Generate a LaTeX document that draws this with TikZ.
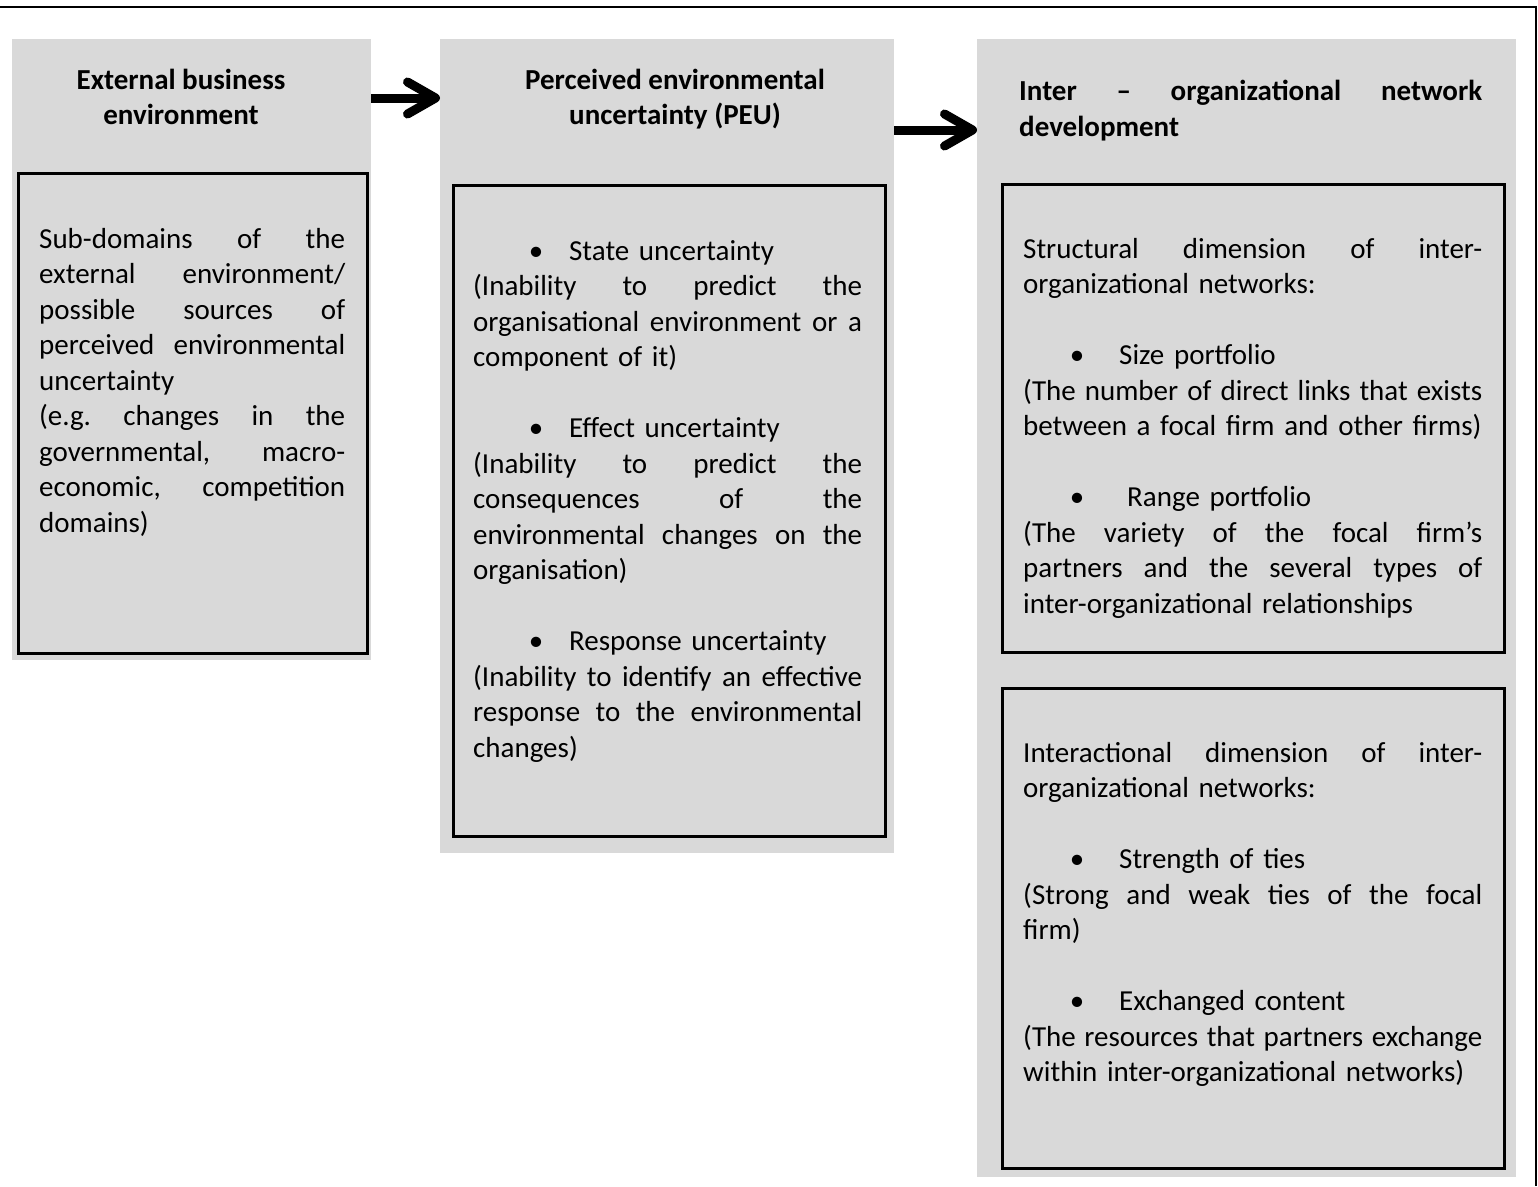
\documentclass[tikz,border=0pt]{standalone}
\usepackage{fontspec}
\setmainfont{Carlito}
\usetikzlibrary{arrows.meta}
\definecolor{panelgrey}{HTML}{D9D9D9}
\setlength{\parindent}{0pt}
\frenchspacing
% width of a justified line, set per text block
\newlength{\jw}
% one justified line of fixed width (interword glue of the font restored)
\newcommand{\jline}[1]{\makebox[\jw][s]{\spaceskip=0pt\xspaceskip=0pt\relax #1}}
% bullet item: bullet centred at #1, text starting at #2
\newcommand{\bitem}[3]{\mbox{\makebox[#2][l]{\hspace*{#1}\makebox[0pt]{•}}#3}}
\begin{document}
\begin{tikzpicture}[x=1pt,y=-1pt,
  panel/.style={fill=panelgrey, inner sep=0pt, outer sep=0pt, anchor=north west},
  inbox/.style={draw=black, line width=2.5pt, fill=panelgrey, inner sep=0pt, anchor=north west},
  body/.style={anchor=base west, inner sep=0pt, align=left,
    font=\fontsize{29}{35.5}\selectfont},
  head/.style={inner sep=0pt, font=\bfseries\fontsize{29}{34.5}\selectfont},
  flow/.style={line width=9pt, -{Straight Barb[length=28pt, width=32pt, round]}}
]
\useasboundingbox (0,0) rectangle (1538,1186);

% frame lines
\draw[line width=2.5pt] (0,7) -- (1536,7) -- (1536,1186);

% grey panels
\node[panel, minimum width=359pt, minimum height=621pt] (p1) at (12,39) {};
\node[panel, minimum width=454pt, minimum height=814pt] (p2) at (440,39) {};
\node[panel, minimum width=539pt, minimum height=1138pt] (p3) at (977,39) {};

% framed content boxes
\node[inbox, minimum width=349pt, minimum height=480pt] (b1) at (17,172) {};
\node[inbox, minimum width=432pt, minimum height=651pt] (b2) at (452,184) {};
\node[inbox, minimum width=502pt, minimum height=468pt] (b3) at (1001,183) {};
\node[inbox, minimum width=502pt, minimum height=480pt] (b4) at (1001,687) {};

% headings (base anchor sits on the last line here)
\node[head, anchor=base, align=center] (h1) at (181,124) {External business\\environment};
\node[head, anchor=base, align=center] (h2) at (675,124) {Perceived environmental\\uncertainty (PEU)};
\node[head, anchor=base west, align=left, text width=463pt,
  font=\bfseries\fontsize{29}{36}\selectfont] (h3) at (1019,100)
  {\setlength{\jw}{463pt}\jline{Inter – organizational network}\\development};

% arrows between the stages
\draw[flow] (p1.east |- 0,98) -- (p2.west |- 0,98);
\draw[flow] (p2.east |- 0,130) -- (p3.west |- 0,130);

% box texts
\node[body, text width=306pt] (t1) at (39,248) {\setlength{\jw}{306pt}%
\jline{Sub-domains of the}\\
\jline{external environment/}\\
\jline{possible sources of}\\
\jline{perceived environmental}\\
uncertainty\\
\jline{(e.g. changes in the}\\
\jline{governmental, macro-}\\
\jline{economic, competition}\\
domains)};

\node[body, text width=389pt] (t2) at (473,260) {\setlength{\jw}{389pt}%
\bitem{63pt}{96pt}{State uncertainty}\\
\jline{(Inability to predict the}\\
\jline{organisational environment or a}\\
component of it)\\
\mbox{}\\
\bitem{63pt}{96pt}{Effect uncertainty}\\
\jline{(Inability to predict the}\\
\jline{consequences of the}\\
\jline{environmental changes on the}\\
organisation)\\
\mbox{}\\
\bitem{63pt}{96pt}{Response uncertainty}\\
\jline{(Inability to identify an effective}\\
\jline{response to the environmental}\\
changes)};

\node[body, text width=459pt] (t3) at (1023,258) {\setlength{\jw}{459pt}%
\jline{Structural dimension of inter-}\\
organizational networks:\\
\mbox{}\\
\bitem{54pt}{96pt}{Size portfolio}\\
\jline{(The number of direct links that exists}\\
between a focal firm and other firms)\\
\mbox{}\\
\bitem{54pt}{104pt}{Range portfolio}\\
\jline{(The variety of the focal firm’s}\\
\jline{partners and the several types of}\\
inter-organizational relationships};

\node[body, text width=459pt] (t4) at (1023,762) {\setlength{\jw}{459pt}%
\jline{Interactional dimension of inter-}\\
organizational networks:\\
\mbox{}\\
\bitem{54pt}{96pt}{Strength of ties}\\
\jline{(Strong and weak ties of the focal}\\
firm)\\
\mbox{}\\
\bitem{54pt}{96pt}{Exchanged content}\\
\jline{(The resources that partners exchange}\\
within inter-organizational networks)};
\end{tikzpicture}
\end{document}
